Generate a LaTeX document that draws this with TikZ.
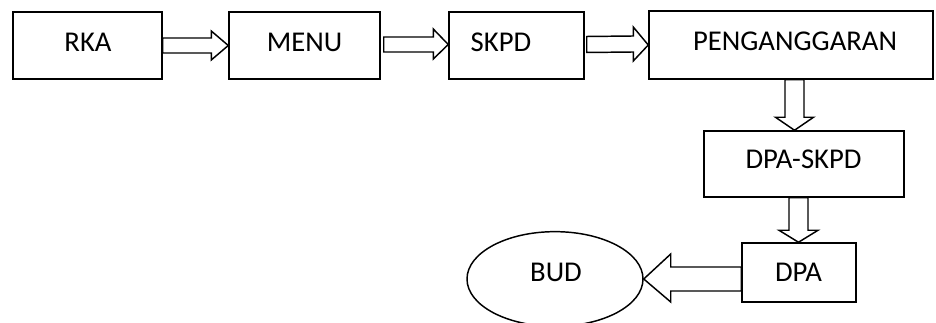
\documentclass[tikz,border=0pt]{standalone}
\usepackage{fontspec}
\setmainfont{Carlito}
\usetikzlibrary{calc,shapes.geometric}

\begin{document}
\begin{tikzpicture}[x=0.75pt,y=-0.75pt,
  stepbox/.style={draw,line width=1.1pt,rectangle,inner sep=0pt},
  oval/.style={draw,line width=1.1pt,ellipse,inner sep=0pt,minimum width=132pt,minimum height=71pt},
  lbl/.style={anchor=base,inner sep=0pt,font=\fontsize{21.5}{26}\selectfont},
  blk/.style={draw,line width=1.1pt,line join=miter,fill=white}]
\useasboundingbox (0,0) rectangle (936,323);

% boxes
\node[stepbox,minimum width=111.75pt,minimum height=50.25pt] (rka) at (87.5,45.5) {};
\node[stepbox,minimum width=113.25pt,minimum height=50.25pt] (menu) at (304.5,45.5) {};
\node[stepbox,minimum width=101.25pt,minimum height=50.25pt] (skpd) at (516.5,45.5) {};
\node[stepbox,minimum width=213pt,minimum height=51pt] (peng) at (791,45) {};
\node[stepbox,minimum width=150pt,minimum height=49.5pt] (dpaskpd) at (804,164) {};
\node[stepbox,minimum width=85.5pt,minimum height=44.25pt] (dpa) at (799,272.5) {};
\node[oval] (bud) at (555,279) {};

% labels
\node[lbl] (rka-t) at (88,52) {RKA};
\node[lbl] (menu-t) at (304.5,52) {MENU};
\node[lbl] (skpd-t) at (501,52) {SKPD};
\node[lbl] (peng-t) at (795,51) {PENGANGGARAN};
\node[lbl] (dpaskpd-t) at (803.5,169) {DPA-SKPD};
\node[lbl] (dpa-t) at (798.5,282) {DPA};
\node[lbl] (bud-t) at (556,282) {BUD};

% block arrows along the top row
\draw[blk] ($(rka.east)+(0,-7.5)$) -- ($(menu.west)+(-17,-7.5)$) -- ($(menu.west)+(-17,-14.5)$)
  -- (menu.west) -- ($(menu.west)+(-17,14.5)$) -- ($(menu.west)+(-17,7.5)$)
  -- ($(rka.east)+(0,7.5)$) -- cycle;
\draw[blk] ($(menu.east)+(3,-8.5)$) -- ($(skpd.west)+(-15,-8.5)$) -- ($(skpd.west)+(-15,-16.5)$)
  -- ($(skpd.west)+(0,-1)$) -- ($(skpd.west)+(-15,13.5)$) -- ($(skpd.west)+(-15,6.5)$)
  -- ($(menu.east)+(3,6.5)$) -- cycle;
\draw[blk] ($(skpd.east)+(2,-9)$) -- ($(peng.west)+(-15,-9)$) -- ($(peng.west)+(-15,-18)$)
  -- (peng.west) -- ($(peng.west)+(-15,16)$) -- ($(peng.west)+(-15,7)$)
  -- ($(skpd.east)+(2,7)$) -- cycle;

% block arrows going down
\coordinate (d1s) at ($(peng.south)+(3.5,0)$);
\coordinate (d1t) at (d1s |- dpaskpd.north);
\draw[blk] ($(d1s)+(-9.5,0)$) -- ($(d1t)+(-9.5,-13)$) -- ($(d1t)+(-19,-13)$)
  -- (d1t) -- ($(d1t)+(19,-13)$) -- ($(d1t)+(9.5,-13)$) -- ($(d1s)+(9.5,0)$) -- cycle;
\coordinate (d2s) at ($(dpaskpd.south)+(-5.5,0)$);
\coordinate (d2t) at (d2s |- dpa.north);
\draw[blk] ($(d2s)+(-9.5,0)$) -- ($(d2t)+(-9.5,-12)$) -- ($(d2t)+(-19.5,-12)$)
  -- (d2t) -- ($(d2t)+(19.5,-12)$) -- ($(d2t)+(9.5,-12)$) -- ($(d2s)+(9.5,0)$) -- cycle;

% block arrow to the oval
\coordinate (l1s) at ($(dpa.west)+(0,6.5)$);
\coordinate (l1t) at (bud.east |- l1s);
\draw[blk] ($(l1s)+(0,-12)$) -- ($(l1t)+(27,-12)$) -- ($(l1t)+(27,-25)$)
  -- (l1t) -- ($(l1t)+(27,23)$) -- ($(l1t)+(27,12)$) -- ($(l1s)+(0,12)$) -- cycle;
\end{tikzpicture}
\end{document}
